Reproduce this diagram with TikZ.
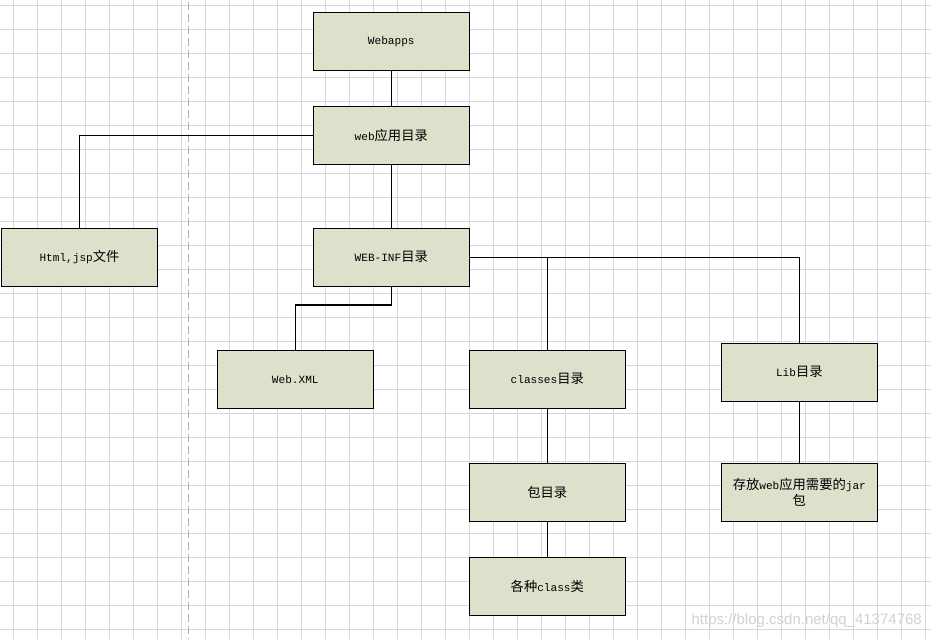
\documentclass[tikz,border=0pt]{standalone}
\usepackage{fontspec}
\setmainfont{Liberation Mono}
\newfontfamily\cjk{Noto Sans CJK SC}
\newfontfamily\wmfont{Liberation Sans}
\newcommand{\zh}[1]{{\cjk\fontsize{13.3}{16}\selectfont #1}}
\definecolor{boxfill}{RGB}{221,225,204}
\definecolor{gridgray}{RGB}{216,216,216}
\definecolor{dashgray}{RGB}{176,176,176}
\begin{document}
\begin{tikzpicture}[x=1pt,y=-1pt,
  box/.style={draw=black,line width=1.3pt,fill=boxfill,rectangle,minimum width=156pt,minimum height=58pt,inner sep=0pt,align=center,font=\fontsize{11.1}{16}\selectfont},
  link/.style={draw=black,line width=1.3pt}]
\useasboundingbox (0,0) rectangle (931,639);
\fill[white] (0,0) rectangle (931,639);
% grid
\foreach \i in {0,...,38} \draw[gridgray,line width=1pt] ({13.3+24*\i},0) -- ({13.3+24*\i},639);
\foreach \j in {0,...,26} \draw[gridgray,line width=1pt] (0,{5.3+24*\j}) -- (931,{5.3+24*\j});
% dashed separator
\draw[dashgray,line width=1.2pt,dash pattern=on 8pt off 4pt] (188.3,2) -- (188.3,639);
% nodes
\node[box] (webapps) at (391.3,41.3) {Webapps};
\node[box] (webdir) at (391.3,135.3) {web\zh{应用目录}};
\node[box] (html) at (79.5,257.3) {Html,jsp\zh{文件}};
\node[box] (webinf) at (391.3,257.3) {WEB-INF\zh{目录}};
\node[box] (webxml) at (295.3,379.3) {Web.XML};
\node[box] (classes) at (547.3,379.3) {classes\zh{目录}};
\node[box] (lib) at (799.3,372.3) {Lib\zh{目录}};
\node[box] (bao) at (547.3,492.3) {\zh{包目录}};
\node[box] (gezhong) at (547.3,586.3) {\zh{各种}class\zh{类}};
\node[box] (cunfang) at (799.3,492.3) {\zh{存放}web\zh{应用需要的}jar\\\zh{包}};
% connectors
\draw[link] (webapps.south) -- (webdir.north);
\draw[link] (webdir.west) -| (html.north);
\draw[link] (webdir.south) -- (webinf.north);
\draw[link] (webinf.south) -- ++(0,18) -| (webxml.north);
\draw[link] (webinf.east) -| (lib.north);
\draw[link] (classes.north) -- (classes.north |- webinf.east);
\draw[link] (classes.south) -- (bao.north);
\draw[link] (bao.south) -- (gezhong.north);
\draw[link] (lib.south) -- (cunfang.north);
% watermark
\node[anchor=east,text=gray!35,font=\wmfont\fontsize{15}{16}\selectfont,inner sep=0pt] (wm) at (922,621) {https://blog.csdn.net/qq\_41374768};
\end{tikzpicture}
\end{document}
